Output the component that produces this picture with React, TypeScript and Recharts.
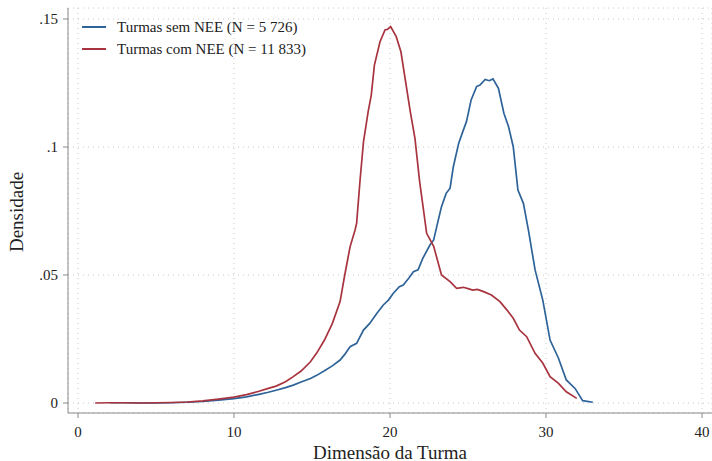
import { CartesianGrid, Legend, Line, LineChart, XAxis, YAxis } from "recharts";

// kernel density estimates: [turma size, density]
const semNee: [number, number][] = [
  [2.05, 0.0001], [3, 0.0001], [4, 0.0], [5, 0.0], [6, 0.0001], [7, 0.0003],
  [8, 0.0006], [9, 0.0011], [10, 0.0017], [10.8, 0.0024], [11.6, 0.0034],
  [12.2, 0.0042], [12.7, 0.005], [13.3, 0.006], [13.8, 0.007], [14.3, 0.0082],
  [14.9, 0.0096], [15.3, 0.0108], [15.8, 0.0126], [16.3, 0.0145], [16.8, 0.0168],
  [17.1, 0.019], [17.44, 0.022], [17.86, 0.0233], [18.3, 0.0285], [18.7, 0.0311],
  [19.15, 0.035], [19.57, 0.0383], [19.9, 0.0402], [20.2, 0.0428], [20.6, 0.0454],
  [20.85, 0.0461], [21.2, 0.0487], [21.5, 0.0513], [21.8, 0.052], [22.1, 0.0565],
  [22.56, 0.0617], [22.8, 0.0637], [23.0, 0.069], [23.3, 0.0767], [23.6, 0.0819],
  [23.85, 0.0839], [24.06, 0.0923], [24.4, 0.1014], [24.7, 0.1066], [24.9, 0.1099],
  [25.2, 0.1184], [25.55, 0.1236], [25.77, 0.1242], [26.1, 0.1264], [26.36, 0.1259],
  [26.6, 0.1266], [26.95, 0.1229], [27.3, 0.1132], [27.6, 0.1079], [27.9, 0.1001],
  [28.2, 0.0832], [28.55, 0.078], [28.87, 0.0676], [29.3, 0.052], [29.8, 0.04],
  [30.26, 0.0246], [30.8, 0.0175], [31.3, 0.009], [31.86, 0.0057], [32.35, 0.0009],
  [33.0, 0.0003],
];

const comNee: [number, number][] = [
  [1.1, 0.0], [2, 0.0001], [3, 0.0001], [4, 0.0], [5, 0.0001], [6, 0.0002],
  [7, 0.0004], [8, 0.0008], [9, 0.0015], [10, 0.0023], [10.8, 0.0033],
  [11.6, 0.0046], [12.2, 0.0057], [12.7, 0.0066], [13.3, 0.0083], [13.8, 0.0103],
  [14.3, 0.0125], [14.9, 0.0161], [15.3, 0.0195], [15.8, 0.0246], [16.3, 0.031],
  [16.8, 0.0396], [17.1, 0.05], [17.44, 0.061], [17.76, 0.0676], [17.86, 0.0702],
  [18.08, 0.087], [18.3, 0.102], [18.6, 0.1138], [18.8, 0.1203], [19.0, 0.132],
  [19.36, 0.1411], [19.68, 0.1457], [19.85, 0.146], [20.04, 0.147], [20.4, 0.1431],
  [20.7, 0.1372], [21.0, 0.1255], [21.3, 0.1138], [21.6, 0.1034], [21.9, 0.0865],
  [22.35, 0.0663], [22.8, 0.0612], [23.3, 0.05], [23.85, 0.0474], [24.27, 0.0448],
  [24.7, 0.0452], [25.0, 0.0447], [25.3, 0.0441], [25.6, 0.0444], [26.0, 0.0435],
  [26.5, 0.0422], [27.05, 0.0396], [27.5, 0.0363], [27.9, 0.0331], [28.3, 0.0285],
  [28.76, 0.0259], [29.3, 0.0194], [29.8, 0.0155], [30.26, 0.0103], [30.8, 0.0077],
  [31.3, 0.0044], [31.97, 0.0018],
];

const xTicks = [0, 10, 20, 30, 40];
const yTicks = [0, 0.05, 0.1, 0.15];
const seriesNames = ["Turmas sem NEE (N = 5 726)", "Turmas com NEE (N = 11 833)"];

const BLUE = "#2e6398";
const RED = "#a8343f";
const AXIS = "#8a8a8a";
const FONT = '"Liberation Serif", "DejaVu Serif", serif';

const toRows = (pts: [number, number][]) => pts.map(([x, y]) => ({ x, y }));

function fmtY(v: number): string {
  if (v === 0) return "0";
  return String(v).replace(/^0/, "");
}

function LegendBox() {
  const items = [
    { name: seriesNames[0], color: BLUE },
    { name: seriesNames[1], color: RED },
  ];
  return (
    <div style={{ fontFamily: FONT, fontSize: 15, color: "#222" }}>
      {items.map((it) => (
        <div key={it.name} style={{ display: "flex", alignItems: "center", height: 22 }}>
          <span style={{ display: "inline-block", width: 24, height: 2, background: it.color, marginRight: 11 }} />
          <span>{it.name}</span>
        </div>
      ))}
    </div>
  );
}

export default function App() {
  return (
    <div style={{ position: "absolute", left: 0, top: 0, background: "#fff" }}>
      <LineChart width={712} height={461} margin={{ top: 8, right: 0, bottom: 0, left: 0 }}>
        <CartesianGrid stroke="#c8c8c8" strokeDasharray="1 4" />
        <XAxis
          type="number"
          dataKey="x"
          domain={[-0.64, 40.64]}
          ticks={xTicks}
          allowDataOverflow
          height={48}
          stroke={AXIS}
          tickSize={5}
          tickMargin={8}
          tick={{ fill: "#222", fontSize: 15, fontFamily: FONT }}
          label={{
            content: () => (
              <text x={390} y={452} textAnchor="middle" dominantBaseline="central" fontFamily={FONT} fontSize={19} fill="#222">
                Dimensão da Turma
              </text>
            ),
          }}
        />
        <YAxis
          type="number"
          dataKey="y"
          domain={[-0.0039, 0.1543]}
          ticks={yTicks}
          allowDataOverflow
          width={68}
          stroke={AXIS}
          tickSize={5}
          tickMargin={5}
          tickFormatter={fmtY}
          tick={{ fill: "#222", fontSize: 15, fontFamily: FONT }}
          label={{
            content: () => (
              <text x={16} y={212} transform="rotate(-90 16 212)" textAnchor="middle" dominantBaseline="central" fontFamily={FONT} fontSize={19} fill="#222">
                Densidade
              </text>
            ),
          }}
        />
        <Legend
          layout="horizontal"
          verticalAlign="middle"
          align="center"
          content={() => <LegendBox />}
          wrapperStyle={{ left: 82, top: 16, width: 260, height: 44 }}
        />
        <Line data={toRows(semNee)} dataKey="y" name={seriesNames[0]} type="linear" stroke={BLUE} strokeWidth={1.7} dot={false} isAnimationActive={false} />
        <Line data={toRows(comNee)} dataKey="y" name={seriesNames[1]} type="linear" stroke={RED} strokeWidth={1.7} dot={false} isAnimationActive={false} />
      </LineChart>
    </div>
  );
}
